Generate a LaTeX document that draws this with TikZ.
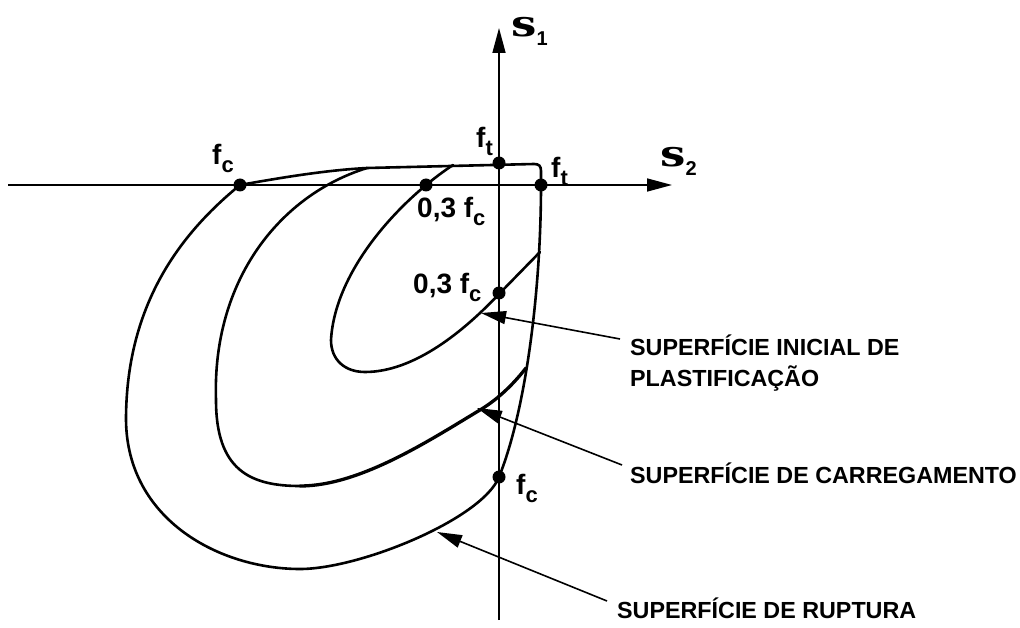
\documentclass[tikz,border=0pt]{standalone}
\usepackage{fontspec}
\usepackage{graphicx}
\setmainfont{Liberation Sans}
\newfontfamily\sigmafont{DejaVu Serif}
\usetikzlibrary{arrows.meta}
\tikzset{
  axisline/.style={line width=1.6pt, -{Triangle[length=25pt,width=13pt]}},
  surf/.style={line width=2.6pt, line join=round, line cap=round},
  leader/.style={line width=1.6pt, -{Triangle[length=25pt,width=13pt]}},
  dot/.style={circle, fill=black, inner sep=0pt, minimum size=13pt},
  lab/.style={inner sep=0pt, anchor=base west, font=\fontsize{28}{28}\selectfont\bfseries},
  note/.style={inner sep=0pt, anchor=base west, font=\fontsize{23.3}{28}\selectfont\bfseries},
}
\newcommand\sbs[1]{\raisebox{-8pt}{\fontsize{22}{22}\selectfont #1}}
\newcommand\sigmalab[1]{{\sigmafont\bfseries\fontsize{36}{36}\selectfont\scalebox{1.25}[1]{s}}\raisebox{-9pt}{\fontsize{20}{20}\selectfont\bfseries #1}}
\begin{document}
\begin{tikzpicture}[x=1pt,y=-1pt]
\useasboundingbox (0,0) rectangle (1020,628);
% axes
\coordinate (hL) at (8,185);
\coordinate (hR) at (672,185);
\coordinate (vB) at (499,620);
\coordinate (vT) at (499,28);
\draw[axisline] (hL) -- (hR);
\draw[axisline] (vB) -- (vT);
\node[inner sep=0pt, anchor=base west] (sig1) at (511,37) {\sigmalab{1}};
\node[inner sep=0pt, anchor=base west] (sig2) at (660,167) {\sigmalab{2}};
% rupture surface
\draw[surf] (240,185) .. controls (290,176) and (330,170) .. (367,168) -- (534,164)
  .. controls (539,164) and (541,166) .. (541,171)
  -- (541,185)
  .. controls (541,290) and (526,410) .. (499,477)
  .. controls (482,519) and (360,569) .. (300,569)
  .. controls (220,569) and (127,520) .. (126,420)
  .. controls (126,300) and (185,230) .. (240,185);
% loading surface
\draw[surf] (367,168) .. controls (280,195) and (212,280) .. (216,400)
  .. controls (216,470) and (250,486) .. (300,486);
\draw[surf, line width=3.3pt] (300,486) .. controls (360,486) and (430,440) .. (480,410)
  .. controls (500,398) and (515,382) .. (526,368);
% initial yield surface
\draw[surf] (453,165) .. controls (400,200) and (335,270) .. (331,340)
  .. controls (331,360) and (345,372) .. (365,372)
  .. controls (415,372) and (465,330) .. (499,294) -- (540,252);
% dots
\node[dot] (fcL) at (240,185) {};
\node[dot] (c03a) at (426,185) {};
\node[dot] (ftT) at (499,163) {};
\node[dot] (ftR) at (541,185) {};
\node[dot] (c03b) at (499,293) {};
\node[dot] (fcB) at (499,477) {};
% value labels
\node[lab] (lfcL) at (212,165) {f\sbs{c}};
\node[lab] (l03a) at (417,218) {0,3 f\sbs{c}};
\node[lab] (lftT) at (476,148) {f\sbs{t}};
\node[lab] (lftR) at (551,178) {f\sbs{t}};
\node[lab] (l03b) at (413,294) {0,3 f\sbs{c}};
\node[lab] (lfcB) at (516,494) {f\sbs{c}};
% notes
\node[note] (nA1) at (630,355) {SUPERFÍCIE INICIAL DE};
\node[note] (nA2) at (630,386) {PLASTIFICAÇÃO};
\node[note] (nB) at (630,483) {SUPERFÍCIE DE CARREGAMENTO};
\node[note] (nC) at (617,618) {SUPERFÍCIE DE RUPTURA};
% leaders
\coordinate (aS) at (620,339);
\coordinate (aE) at (481,313);
\coordinate (bS) at (622,465);
\coordinate (bE) at (477,408);
\coordinate (cS) at (607,601);
\coordinate (cE) at (437,532);
\draw[leader] (aS) -- (aE);
\draw[leader] (bS) -- (bE);
\draw[leader] (cS) -- (cE);
\end{tikzpicture}
\end{document}
